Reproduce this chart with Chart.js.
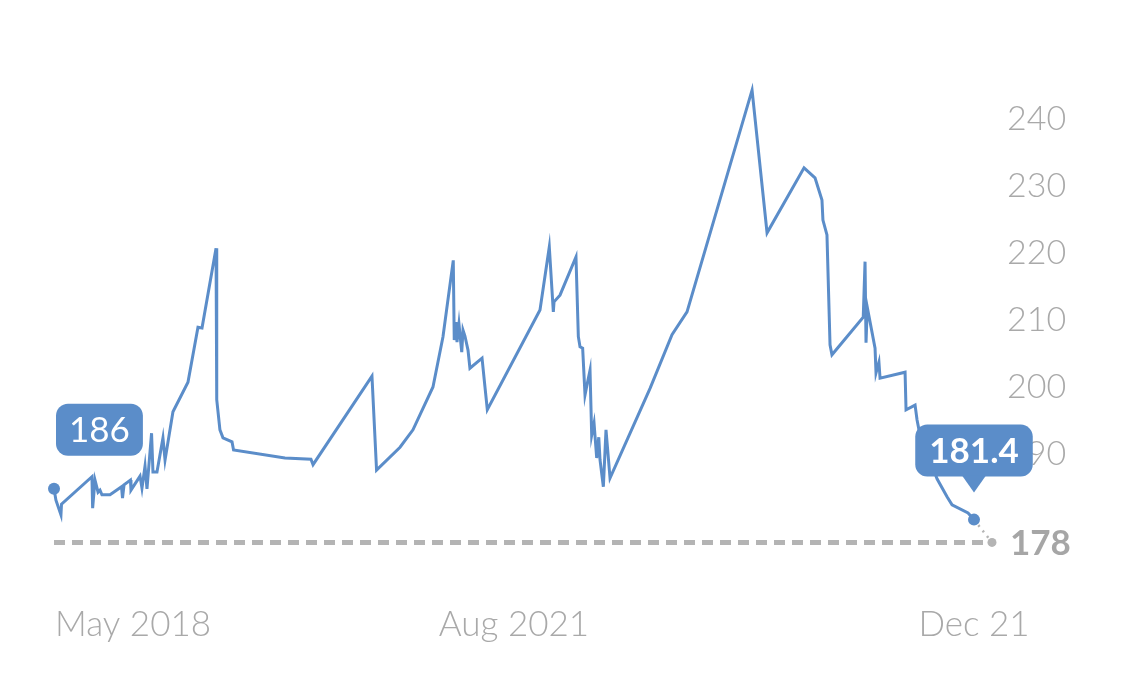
<!DOCTYPE html>
<html>
<head>
<meta charset="utf-8">
<title>Price history</title>
<script src="https://cdn.jsdelivr.net/npm/chart.js@4.4.1/dist/chart.umd.min.js"></script>
<style>
  html, body { margin: 0; padding: 0; background: #fff; }
  #wrap { width: 1125px; height: 679px; position: relative; }
</style>
</head>
<body>
<div id="wrap"><canvas id="priceChart"></canvas></div>
<script>
// Time of each reading, as decimal years
const years = [
  2018.350, 2018.364, 2018.400, 2018.404, 2018.623, 2018.628, 2018.645, 2018.667, 2018.681, 2018.695,
  2018.753, 2018.836, 2018.843, 2018.854, 2018.900, 2018.904, 2018.969, 2018.983, 2019.005, 2019.019,
  2019.052, 2019.062, 2019.091, 2019.134, 2019.149, 2019.206, 2019.314, 2019.386, 2019.415, 2019.516,
  2019.521, 2019.544, 2019.566, 2019.631, 2019.642, 2020.012, 2020.199, 2020.214, 2020.638, 2020.671,
  2020.840, 2020.933, 2021.077, 2021.149, 2021.223, 2021.230, 2021.243, 2021.250, 2021.264, 2021.284,
  2021.293, 2021.307, 2021.329, 2021.343, 2021.430, 2021.451, 2021.468, 2021.847, 2021.914, 2021.943,
  2021.948, 2021.991, 2022.106, 2022.123, 2022.135, 2022.154, 2022.171, 2022.188, 2022.207, 2022.219,
  2022.236, 2022.255, 2022.270, 2022.279, 2022.303, 2022.322, 2022.351, 2022.639, 2022.797, 2022.905,
  2023.373, 2023.481, 2023.747, 2023.826, 2023.876, 2023.883, 2023.912, 2023.934, 2023.948, 2024.173,
  2024.186, 2024.193, 2024.202, 2024.258, 2024.265, 2024.286, 2024.294, 2024.474, 2024.481, 2024.546,
  2024.560, 2024.574, 2024.704, 2024.776, 2024.812, 2024.927, 2024.970
];

// Price at each reading
const prices = [
  186.0, 184.3, 182.1, 183.7, 187.8, 183.1, 187.3, 185.5, 185.8, 185.1,
  185.1, 186.3, 184.6, 186.6, 187.3, 185.8, 187.9, 186.1, 189.4, 186.0,
  194.3, 188.5, 188.5, 193.6, 190.3, 197.5, 201.9, 210.1, 210.0, 221.9,
  199.3, 194.8, 193.6, 193.0, 191.8, 190.6, 190.4, 189.6, 202.8, 188.8,
  192.2, 194.8, 201.2, 208.7, 220.1, 208.2, 210.9, 207.9, 210.6, 206.4,
  209.7, 208.8, 206.7, 204.0, 205.5, 201.2, 197.8, 212.7, 222.1, 212.4,
  213.9, 214.9, 220.6, 208.7, 207.2, 207.0, 200.0, 201.8, 203.7, 194.0,
  195.8, 190.6, 193.7, 190.3, 186.3, 194.8, 187.6, 201.0, 209.0, 212.4,
  245.5, 224.2, 233.9, 232.4, 229.1, 226.1, 223.9, 207.5, 206.0, 211.6,
  219.9, 207.8, 213.1, 207.0, 203.3, 204.9, 202.5, 203.4, 197.8, 198.5,
  196.3, 194.8, 187.5, 184.8, 183.6, 182.4, 181.4
];

// Axis labels
const yTickValues = [190, 200, 210, 220, 230, 240];
const xTickYears = [2018.35, 2021.66, 2024.97];
const xTickLabels = ["May 2018", "Aug 2021", "Dec 21"];

// Reference line and the two callouts
const refValue = 178;
const startLabel = "186";
const endLabel = "181.4";

const BLUE = "#5b8dc9";
const GREY = "#b4b4b4";
const LABEL_GREY = "#a9a9a9";
const FONT = "Lato, 'Open Sans', sans-serif";

function roundRect(ctx, x, y, w, h, r) {
  ctx.beginPath();
  ctx.moveTo(x + r, y);
  ctx.lineTo(x + w - r, y);
  ctx.arcTo(x + w, y, x + w, y + r, r);
  ctx.lineTo(x + w, y + h - r);
  ctx.arcTo(x + w, y + h, x + w - r, y + h, r);
  ctx.lineTo(x + r, y + h);
  ctx.arcTo(x, y + h, x, y + h - r, r);
  ctx.lineTo(x, y + r);
  ctx.arcTo(x, y, x + r, y, r);
  ctx.closePath();
}

/******************************* Reference line, callouts and x labels *******************************/
const decorations = {
  id: "decorations",
  beforeDatasetsDraw(chart) {
    const { ctx, scales } = chart;
    const last = years.length - 1;
    const endX = scales.x.getPixelForValue(years[last]);
    const endY = scales.y.getPixelForValue(prices[last]);
    const refY = scales.y.getPixelForValue(refValue);

    ctx.save();
    // dashed reference line
    ctx.strokeStyle = GREY;
    ctx.lineWidth = 5;
    ctx.setLineDash([11, 7]);
    ctx.beginPath();
    ctx.moveTo(chart.chartArea.left, refY);
    ctx.lineTo(endX + 10, refY);
    ctx.stroke();

    // dotted connector from the last point
    ctx.lineWidth = 2.5;
    ctx.setLineDash([2, 5]);
    ctx.beginPath();
    ctx.moveTo(endX, endY);
    ctx.lineTo(endX + 18, refY);
    ctx.stroke();
    ctx.setLineDash([]);

    ctx.fillStyle = GREY;
    ctx.beginPath();
    ctx.arc(endX + 18, refY, 4.5, 0, Math.PI * 2);
    ctx.fill();

    // bold reference value
    ctx.fillStyle = "#a6a6a6";
    ctx.font = "bold 35px " + FONT;
    ctx.textAlign = "left";
    ctx.textBaseline = "middle";
    ctx.fillText(String(refValue), chart.chartArea.right + 36, refY + 1);
    ctx.restore();
  },
  afterDatasetsDraw(chart) {
    const { ctx, scales } = chart;
    const last = years.length - 1;
    const startX = scales.x.getPixelForValue(years[0]);
    const startY = scales.y.getPixelForValue(prices[0]);
    const endX = scales.x.getPixelForValue(years[last]);
    const endY = scales.y.getPixelForValue(prices[last]);

    ctx.save();
    ctx.textBaseline = "middle";
    ctx.textAlign = "center";

    // start callout
    ctx.font = "35px " + FONT;
    let w = ctx.measureText(startLabel).width + 26;
    let h = 52;
    let bx = startX + 2;
    let by = startY - 33 - h;
    ctx.fillStyle = BLUE;
    roundRect(ctx, bx, by, w, h, 12);
    ctx.fill();
    ctx.fillStyle = "#fff";
    ctx.fillText(startLabel, bx + w / 2, by + h / 2 + 1);

    // end callout with pointer
    ctx.font = "bold 35px " + FONT;
    w = ctx.measureText(endLabel).width + 28;
    bx = endX - w / 2;
    by = endY - 43 - h;
    ctx.fillStyle = BLUE;
    roundRect(ctx, bx, by, w, h, 12);
    ctx.fill();
    ctx.beginPath();
    ctx.moveTo(endX - 12, by + h - 1);
    ctx.lineTo(endX + 12, by + h - 1);
    ctx.lineTo(endX, by + h + 16);
    ctx.closePath();
    ctx.fill();
    ctx.fillStyle = "#fff";
    ctx.fillText(endLabel, endX, by + h / 2 + 1);

    // x labels
    ctx.font = "300 35px " + FONT;
    ctx.fillStyle = LABEL_GREY;
    xTickYears.forEach((yr, i) => {
      ctx.textAlign = i === 0 ? "left" : "center";
      const x = scales.x.getPixelForValue(yr) + (i === 0 ? 1 : 0);
      ctx.fillText(xTickLabels[i], x, 625);
    });
    ctx.restore();
  },
};

/******************************* Build the chart *******************************/
const points = years.map((yr, i) => ({ x: yr, y: prices[i] }));

new Chart(document.getElementById("priceChart"), {
  type: "line",
  data: {
    datasets: [
      {
        data: points,
        borderColor: BLUE,
        backgroundColor: BLUE,
        borderWidth: 3,
        tension: 0,
        clip: false,
        pointRadius: (ctx) => (ctx.dataIndex === 0 || ctx.dataIndex === years.length - 1 ? 6 : 0),
        pointHoverRadius: 0,
        pointBackgroundColor: BLUE,
        pointBorderWidth: 0,
      },
    ],
  },
  options: {
    responsive: true,
    maintainAspectRatio: false,
    animation: false,
    layout: { padding: { left: 54, top: 60, right: 0, bottom: 116.5 } },
    scales: {
      x: {
        type: "linear",
        min: years[0],
        max: years[years.length - 1],
        display: false,
      },
      y: {
        position: "right",
        min: 175,
        max: 250,
        grid: { display: false, drawTicks: false },
        border: { display: false },
        afterBuildTicks: (axis) => {
          axis.ticks = yTickValues.map((v) => ({ value: v }));
        },
        afterFit: (axis) => {
          axis.width = 151;
        },
        ticks: {
          color: LABEL_GREY,
          padding: 33,
          labelOffset: -8,
          font: { family: FONT, size: 34, weight: 300 },
        },
      },
    },
    plugins: {
      legend: { display: false },
      tooltip: { enabled: false },
    },
  },
  plugins: [decorations],
});
</script>
</body>
</html>
